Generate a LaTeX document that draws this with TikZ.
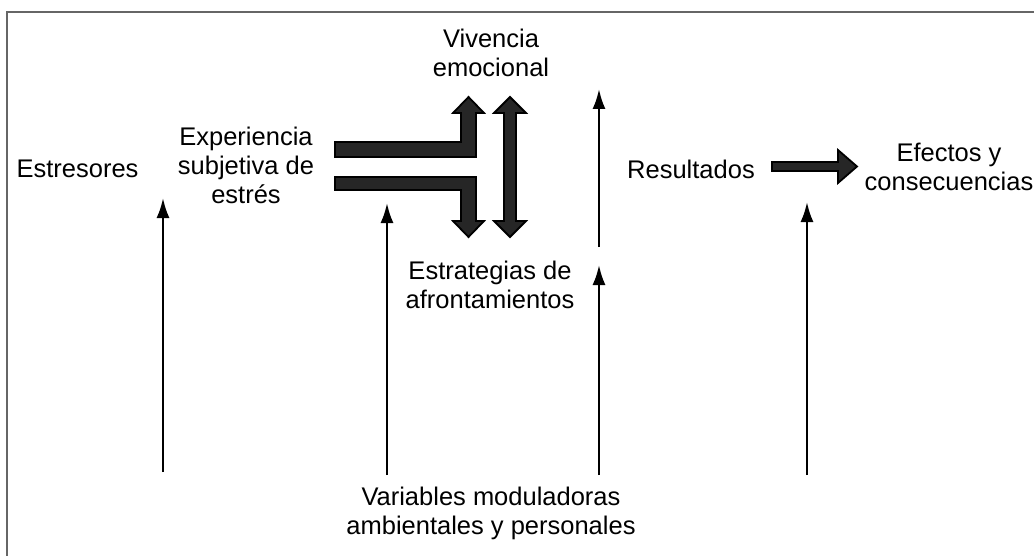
\documentclass[tikz,border=0pt]{standalone}
\usepackage{fontspec}
\setmainfont{Liberation Sans}
\usetikzlibrary{arrows.meta}

\tikzset{
  lbl/.style={align=center, inner sep=0pt, font=\fontsize{12.75}{14.5}\selectfont},
  thinarrow/.style={->, line width=1.2pt},
  block/.style={draw=black, fill=black!85, line width=0.9pt, line join=miter},
}

\begin{document}
\begin{tikzpicture}[>={Latex[length=10pt,width=6.5pt]},x=0.5pt,y=-0.5pt]
\useasboundingbox (0,0) rectangle (1034,556);
\draw[line width=1pt,black!60] (7,556) -- (7,12) -- (1034,12);

% texts
\node[lbl] (estr) at (77.5,168.5) {Estresores};
\node[lbl] (exp) at (246,165) {Experiencia\\subjetiva de\\estrés};
\node[lbl] (viv) at (491,53) {Vivencia\\emocional};
\node[lbl] (estrat) at (490,285) {Estrategias de\\afrontamientos};
\node[lbl] (res) at (691,169.5) {Resultados};
\node[lbl] (efe) at (949,167) {Efectos y\\consecuencias};
\node[lbl] (var) at (491,513) {Variables moduladoras\\ambientales y personales};

% block arrows
\draw[block] (335,142) -- (461,142) -- (461,113) -- (453,113) -- (468.5,97)
  -- (484,113) -- (476,113) -- (476,157) -- (335,157) -- cycle;
\draw[block] (335,177) -- (476,177) -- (476,221) -- (484,221) -- (468.5,237)
  -- (453,221) -- (461,221) -- (461,190) -- (335,190) -- cycle;
\draw[block] (504,113) -- (494,113) -- (510,97) -- (526,113) -- (516,113)
  -- (516,221) -- (526,221) -- (510,237) -- (494,221) -- (504,221) -- cycle;
\draw[block] (772,162) -- (838,162) -- (838,150) -- (857,166.5) -- (838,183)
  -- (838,171) -- (772,171) -- cycle;

% thin arrows
\foreach \n/\x/\yb/\yt in {m1/163/472/198, m2/387/475/203, m3/599/475/265,
    m4/599/247/89, m5/807/475/202} {
  \coordinate (\n b) at (\x,\yb);
  \coordinate (\n t) at (\x,\yt);
  \draw[thinarrow] (\n b) -- (\n t);
}

\end{tikzpicture}
\end{document}
